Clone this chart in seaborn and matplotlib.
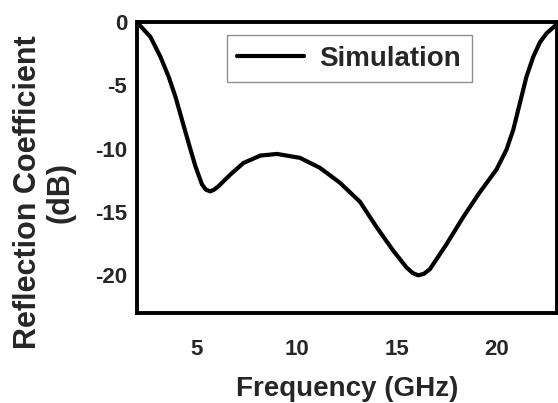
import matplotlib
matplotlib.use("Agg")
import matplotlib.pyplot as plt
import seaborn as sns
import pandas as pd

# Simulated reflection coefficient (S11) of the antenna
freq_ghz = [2.0, 2.17, 2.67, 3.17, 3.58, 3.92, 4.25, 4.58, 4.92, 5.25, 5.45, 5.67,
            5.85, 6.08, 6.67, 7.33, 8.17, 9.0, 10.15, 11.15, 12.15, 13.15, 13.98,
            14.82, 15.48, 15.8, 16.07, 16.35, 16.65, 17.48, 18.32, 19.1, 19.98,
            20.48, 20.82, 21.15, 21.48, 21.82, 22.15, 22.48, 22.9, 23.0]
s11_db = [-0.05, -0.3, -1.16, -2.73, -4.3, -5.88, -7.72, -9.55, -11.39, -12.83, -13.25, -13.38,
          -13.25, -12.97, -12.05, -11.13, -10.55, -10.42, -10.73, -11.52, -12.7, -14.2, -16.2,
          -18.08, -19.4, -19.85, -20.02, -19.9, -19.53, -17.56, -15.4, -13.55, -11.65,
          -10.08, -8.5, -6.4, -4.3, -2.73, -1.6, -0.89, -0.3, -0.1]
series_name = "Simulation"

x_ticks = [5, 10, 15, 20]
y_ticks = [0, -5, -10, -15, -20]

sns.set_style("white")
plt.rcParams["font.family"] = ["Liberation Sans", "DejaVu Sans"]
plt.rcParams["font.weight"] = "bold"

df = pd.DataFrame({"Frequency": freq_ghz, "S11": s11_db, "Series": series_name})

fig = plt.figure(figsize=(5.58, 4.03), dpi=100)
ax = fig.add_axes([0.2455, 0.2233, 0.7525, 0.7217])

sns.lineplot(data=df, x="Frequency", y="S11", hue="Series", palette=["black"],
             linewidth=3.0, ax=ax, sort=False)
for ln in ax.get_lines():
    ln.set_solid_joinstyle("round")
    ln.set_solid_capstyle("round")

ax.set_xlim(2, 23)
ax.set_ylim(-23, 0)
ax.set_xticks(x_ticks)
ax.set_yticks(y_ticks)
ax.set_xticklabels([str(t) for t in x_ticks], fontsize=16, fontweight="bold")
ax.set_yticklabels([str(t) for t in y_ticks], fontsize=16, fontweight="bold")
ax.tick_params(axis="x", direction="out", length=3.5, width=0.8, color="0.5", pad=15)
ax.tick_params(axis="y", direction="out", length=3.5, width=0.8, color="0.5", pad=3.5)

for side in ["left", "right", "top", "bottom"]:
    ax.spines[side].set_visible(True)
    ax.spines[side].set_color("black")
    ax.spines[side].set_linewidth(2.8)

ax.set_xlabel("Frequency (GHz)", fontsize=20, fontweight="bold")
ax.xaxis.label.set_va("center")
ax.xaxis.set_label_coords(0.5, -0.261)
ax.set_ylabel("Reflection Coefficient\n(dB)", fontsize=22, fontweight="bold",
              linespacing=1.1)
ax.yaxis.label.set_va("center")
ax.yaxis.set_label_coords(-0.221, 0.416)

leg = ax.legend(loc="upper left", bbox_to_anchor=(0.214, 0.955), borderaxespad=0,
                frameon=True, fancybox=False, shadow=False,
                prop={"size": 20, "weight": "bold"},
                handlelength=2.4, handletextpad=0.55, borderpad=0.38)
leg.get_frame().set_edgecolor("0.45")
leg.get_frame().set_linewidth(1.0)
for line in leg.get_lines():
    line.set_linewidth(3.0)

fig.savefig("out.png", dpi=100)
